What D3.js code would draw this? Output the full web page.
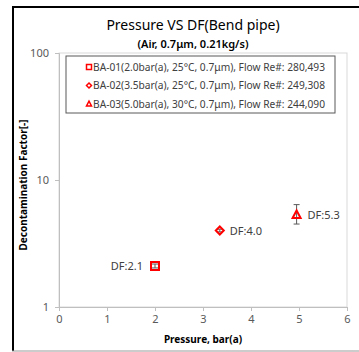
<!DOCTYPE html>
<html>
<head>
<meta charset="utf-8">
<script src="https://cdn.jsdelivr.net/npm/d3@7"></script>
<style>
  body { margin: 0; background: #fff; }
  svg { display: block; }
</style>
</head>
<body>
<svg id="drawing_region"></svg>
<script>
// data
const series = ['BA-01', 'BA-02', 'BA-03'];
const legend_labels = [
    'BA-01(2.0bar(a), 25°C, 0.7μm), Flow Re#: 280,493',
    'BA-02(3.5bar(a), 25°C, 0.7μm), Flow Re#: 249,308',
    'BA-03(5.0bar(a), 30°C, 0.7μm), Flow Re#: 244,090'
];
const pressure = [2.0, 3.35, 4.95];
const df = [2.1, 4.0, 5.3];
const df_low = [2.03, 3.9, 4.5];
const df_high = [2.18, 4.1, 6.4];
const markers = ['square', 'diamond', 'triangle'];
const x_ticks = [0, 1, 2, 3, 4, 5, 6];
const y_ticks = [1, 10, 100];

const W = 359, H = 352;
const font = "'Noto Sans', 'Open Sans', sans-serif";
const red = '#ff0000';

const svg = d3.select('#drawing_region')
    .attr('width', W)
    .attr('height', H);

// outer frame
svg.append('line').attr('x1', 13).attr('x2', 13).attr('y1', 7).attr('y2', 351)
    .attr('stroke', '#000').attr('stroke-width', 2);
svg.append('line').attr('x1', 12).attr('x2', W).attr('y1', 7).attr('y2', 7)
    .attr('stroke', '#000').attr('stroke-width', 2);
svg.append('line').attr('x1', 12).attr('x2', W).attr('y1', 351).attr('y2', 351)
    .attr('stroke', '#999').attr('stroke-width', 1);

const xscale = d3.scaleLinear().domain([0, 6]).range([59, 347]);
const yscale = d3.scaleLog().domain([1, 100]).range([307, 53]);

// plot area border
svg.append('rect')
    .attr('x', xscale(0)).attr('y', yscale(100))
    .attr('width', xscale(6) - xscale(0))
    .attr('height', yscale(1) - yscale(100))
    .attr('fill', 'none').attr('stroke', '#d9d9d9').attr('stroke-width', 1);

const xaxis = d3.axisBottom(xscale).tickValues(x_ticks).tickSize(4).tickPadding(4)
    .tickFormat(d3.format('d'));
const xg = svg.append('g').attr('transform', `translate(0, ${yscale(1)})`).call(xaxis);

const yaxis = d3.axisLeft(yscale).tickValues(y_ticks).tickSize(4).tickPadding(6)
    .tickFormat(d3.format('d'));
const yg = svg.append('g').attr('transform', `translate(${xscale(0)}, 0)`).call(yaxis);

[xg, yg].forEach(g => {
    g.select('.domain').attr('stroke', '#bfbfbf');
    g.selectAll('.tick line').attr('stroke', '#bfbfbf');
    g.selectAll('.tick text').attr('fill', '#595959')
        .style('font-family', font).style('font-size', '11px');
});

// titles
svg.append('text').attr('x', 193).attr('y', 30).attr('text-anchor', 'middle')
    .style('font-family', font).style('font-size', '14px').attr('fill', '#000')
    .text('Pressure VS DF(Bend pipe)');
svg.append('text').attr('x', 193).attr('y', 48).attr('text-anchor', 'middle')
    .style('font-family', font).style('font-size', '11px').style('font-weight', '600')
    .attr('fill', '#000')
    .text('(Air, 0.7μm, 0.21kg/s)');
svg.append('text').attr('x', 203).attr('y', 343).attr('text-anchor', 'middle')
    .style('font-family', font).style('font-size', '10px').style('font-weight', 'bold')
    .attr('fill', '#000')
    .text('Pressure, bar(a)');
svg.append('text')
    .attr('transform', 'translate(27, 185) rotate(-90)')
    .attr('text-anchor', 'middle')
    .style('font-family', font).style('font-size', '10px').style('font-weight', 'bold')
    .attr('fill', '#000')
    .text('Decontamination Factor[-]');

// marker paths
function markerPath(type, s) {
    if (type === 'square') return `M${-s},${-s}H${s}V${s}H${-s}Z`;
    if (type === 'diamond') return `M0,${-s}L${s},0L0,${s}L${-s},0Z`;
    return `M0,${-s * 1.15}L${s},${s * 0.75}H${-s}Z`;
}

const data = series.map((s, i) => ({
    name: s, x: pressure[i], y: df[i], lo: df_low[i], hi: df_high[i],
    marker: markers[i]
}));

// error bars
const eb = svg.append('g');
data.forEach(d => {
    const cx = xscale(d.x);
    eb.append('line').attr('x1', cx).attr('x2', cx)
        .attr('y1', yscale(d.lo)).attr('y2', yscale(d.hi))
        .attr('stroke', '#595959').attr('stroke-width', 1);
    [d.lo, d.hi].forEach(v => {
        eb.append('line').attr('x1', cx - 3).attr('x2', cx + 3)
            .attr('y1', yscale(v)).attr('y2', yscale(v))
            .attr('stroke', '#595959').attr('stroke-width', 1);
    });
});

// points
svg.append('g').selectAll('path')
    .data(data)
    .enter()
    .append('path')
    .attr('transform', d => `translate(${xscale(d.x)}, ${yscale(d.y)})`)
    .attr('d', d => markerPath(d.marker, 4))
    .attr('fill', 'none')
    .attr('stroke', red)
    .attr('stroke-width', 2);

// data labels
const label_dx = [-12, 10, 11];
svg.append('g').selectAll('text')
    .data(data)
    .enter()
    .append('text')
    .attr('x', (d, i) => xscale(d.x) + label_dx[i])
    .attr('y', d => yscale(d.y) + 4)
    .attr('text-anchor', (d, i) => i === 0 ? 'end' : 'start')
    .style('font-family', font).style('font-size', '11px')
    .attr('fill', '#404040')
    .text(d => 'DF:' + d.y.toFixed(1));

// legend
const legend = svg.append('g');
legend.append('rect')
    .attr('x', 66).attr('y', 56).attr('width', 269).attr('height', 57)
    .attr('fill', '#fff').attr('stroke', '#595959').attr('stroke-width', 1);
const ly = [67, 85.5, 104];
legend_labels.forEach((t, i) => {
    legend.append('path')
        .attr('transform', `translate(89, ${ly[i]})`)
        .attr('d', markerPath(markers[i], 2.5))
        .attr('fill', 'none').attr('stroke', red).attr('stroke-width', 1.5);
    legend.append('text')
        .attr('x', 93).attr('y', ly[i] + 3.5)
        .attr('textLength', 232)
        .attr('lengthAdjust', 'spacingAndGlyphs')
        .style('font-family', font).style('font-size', '10px')
        .attr('fill', '#404040')
        .text(t);
});
</script>
</body>
</html>
